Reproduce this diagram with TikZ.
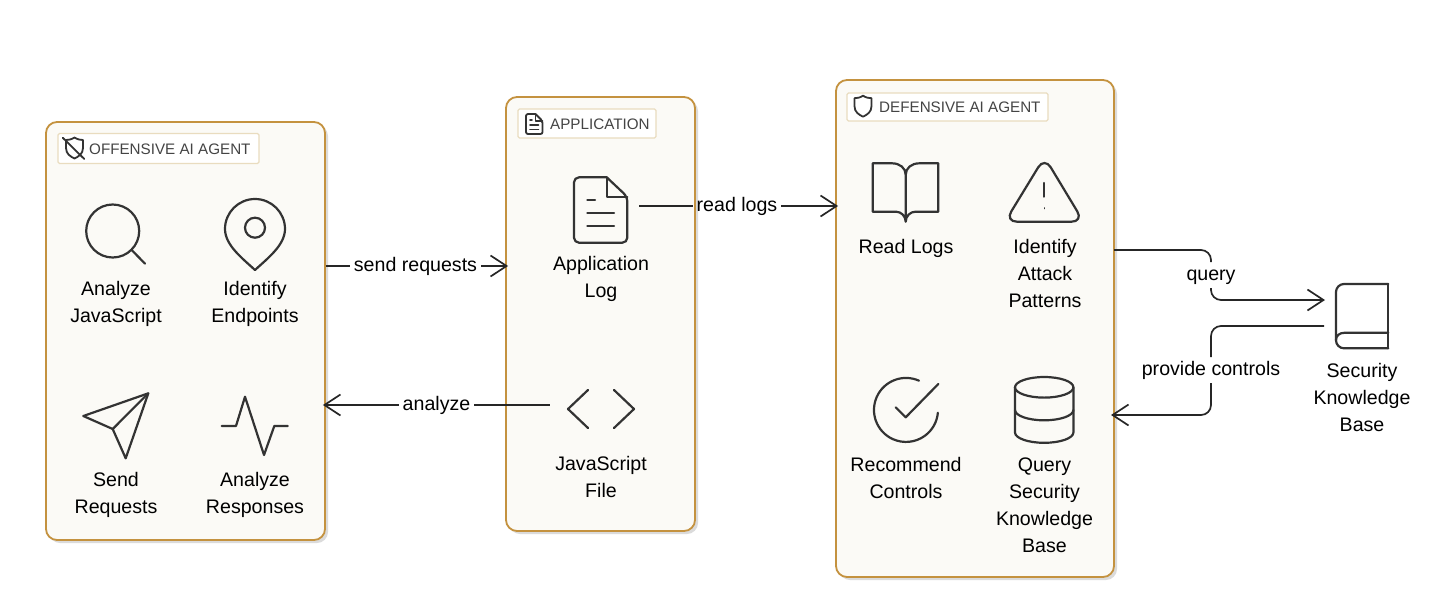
\documentclass[tikz,border=0pt]{standalone}
\usepackage{fontspec}
\setmainfont{Liberation Sans}
\usetikzlibrary{arrows.meta, shadows}
\definecolor{boxedge}{HTML}{C4923F}
\definecolor{boxfill}{HTML}{FBFAF6}
\definecolor{tagedge}{HTML}{E9DCBF}
\definecolor{inkgray}{HTML}{333333}
\definecolor{titlegray}{HTML}{444444}
\tikzset{
    groupbox/.style={draw=boxedge, fill=boxfill, line width=1.8pt, rounded corners=11pt,
        drop shadow={shadow xshift=3pt, shadow yshift=-3pt, opacity=.14, fill=black}},
    tagbox/.style={draw=tagedge, fill=white, line width=1.2pt, rounded corners=1.5pt},
    tagtext/.style={anchor=west, inner sep=0pt, text=titlegray, font=\fontsize{15.2}{18}\selectfont},
    icon/.style={draw=inkgray, line width=2.2pt, line join=round, line cap=round},
    tagicon/.style={draw=inkgray, line width=1.8pt, line join=round, line cap=round},
    iconspot/.style={inner sep=0pt},
    caption/.style={align=center, inner sep=0pt, font=\fontsize{19.6}{27}\selectfont},
    flowlabel/.style={inner sep=0pt, outer sep=4pt, text height=14pt, text depth=4pt, font=\fontsize{19.6}{27}\selectfont},
    flow/.style={draw=black!85, line width=1.7pt, rounded corners=10pt},
    flowtip/.style={flow, shorten >=-3pt, -{Straight Barb[length=16pt, width=21pt, line width=1.7pt]}},
    shieldicon/.pic={
        \draw[tagicon] (0,-10.5) .. controls (3,-8.5) and (6,-8) .. (8.5,-8) -- (8.5,0)
            .. controls (8.5,6) and (4,8.5) .. (0,10.5) .. controls (-4,8.5) and (-8.5,6) .. (-8.5,0)
            -- (-8.5,-8) .. controls (-6,-8) and (-3,-8.5) .. (0,-10.5) -- cycle;
    }
}
\begin{document}
\begin{tikzpicture}[x=1pt, y=-1pt]
    \useasboundingbox (0,0) rectangle (1432,606);

    % group boxes
    \node[groupbox, minimum width=279pt, minimum height=418pt] (offensive) at (185.5,331) {};
    \node[groupbox, minimum width=189pt, minimum height=434pt] (application) at (600.5,314) {};
    \node[groupbox, minimum width=278pt, minimum height=497pt] (defensive) at (975,328.5) {};

    % group titles
    \node[tagbox, minimum width=201pt, minimum height=30pt] (offensivetag) at (158.5,148.5) {};
    \node[tagtext] (offensivetitle) at (89,149) {OFFENSIVE AI AGENT};
    \pic at (74.5,148) {shieldicon};
    \draw[tagicon] (62.7,137.7) -- (84.3,159);
    \node[tagbox, minimum width=138pt, minimum height=29pt] (applicationtag) at (587,123.5) {};
    \node[tagtext] (applicationtitle) at (550,124) {APPLICATION};
    \draw[tagicon, rounded corners=2pt] (535.5,114) -- (526,114) -- (526,134) -- (542.5,134) -- (542.5,121) -- (535.5,114);
    \draw[tagicon] (535.5,114) -- (535.5,121) -- (542.5,121);
    \draw[tagicon] (530,120) -- (532,120) (530,125) -- (538.5,125) (530,129.5) -- (538.5,129.5);
    \node[tagbox, minimum width=201pt, minimum height=28pt] (defensivetag) at (947.5,107) {};
    \node[tagtext] (defensivetitle) at (879,107) {DEFENSIVE AI AGENT};
    \pic at (863,106.2) {shieldicon};

    % offensive icons
    \draw[icon] (112.7,231) circle (26.5);
    \draw[icon] (131.7,250) -- (145,263.7);
    \draw[icon] (255,270) .. controls (242,258) and (225,245) .. (225,229)
        arc[start angle=180, end angle=360, x radius=30, y radius=30]
        .. controls (285,245) and (268,258) .. (255,270) -- cycle;
    \draw[icon] (255,227.7) circle (10);
    \draw[icon] (148.3,393.3) -- (83.3,416) -- (112.7,429) -- (125.7,458.3) -- cycle;
    \draw[icon] (112.7,429) -- (148.3,393.3);
    \draw[icon] (221.7,426) -- (236,426) -- (245,396.7) -- (264,455) -- (274.3,426) -- (287.7,426);

    % application icons
    \node[iconspot, minimum width=77pt, minimum height=66pt] (logicon) at (600.5,210) {};
    \draw[icon, rounded corners=5pt] (606.7,177.3) -- (574,177.3) -- (574,242.7) -- (627.3,242.7) -- (627.3,196.7) -- (606.7,177.3);
    \draw[icon] (606.7,177.3) -- (606.7,196.7) -- (627.3,196.7);
    \draw[icon] (587.3,200) -- (595,200) (587.3,212.7) -- (614,212.7) (587.3,226) -- (614,226);
    \node[iconspot, minimum width=102pt, minimum height=40pt] (codeicon) at (601,409) {};
    \draw[icon] (588,390) -- (568,409) -- (588,428);
    \draw[icon] (614,390) -- (634,409) -- (614,428);

    % defensive icons
    \draw[icon] (905.7,175) .. controls (905.7,168) and (900,163.3) .. (892,163.3) -- (872.7,163.3) -- (872.7,211.7)
        -- (896,211.7) .. controls (901,211.7) and (905.7,216) .. (905.7,221.7)
        .. controls (905.7,216) and (910.4,211.7) .. (915.4,211.7) -- (938.3,211.7) -- (938.3,163.3) -- (919.4,163.3)
        .. controls (911.4,163.3) and (905.7,168) .. (905.7,175) -- (905.7,221.7);
    \draw[icon, rounded corners=12pt] (1044.5,157) -- (1083.5,221.7) -- (1005,221.7) -- cycle;
    \draw[icon] (1044.3,183) -- (1044.3,196.7);
    \draw[icon, line width=1.6pt] (1044.3,208) -- (1044.3,208.5);
    \draw[icon] (919,380.7) arc[start angle=-66, end angle=-355, radius=32];
    \draw[icon] (895.7,407.3) -- (905.7,417.3) -- (938.3,384);
    \draw[icon] (1044.2,387.3) ellipse[x radius=29.2, y radius=10.3];
    \draw[icon] (1015,387.3) -- (1015,432.5) arc[start angle=180, end angle=0, x radius=29.2, y radius=10.3] -- (1073.4,387.3);
    \draw[icon] (1015,410) arc[start angle=180, end angle=0, x radius=29.2, y radius=10.3];

    % knowledge base icon
    \node[iconspot, minimum width=76pt, minimum height=64pt] (bookicon) at (1362,316) {};
    \draw[icon, rounded corners=8pt] (1388.3,284) -- (1336,284) -- (1336,348.3) -- (1388.3,348.3);
    \draw[icon] (1388.3,284) -- (1388.3,348.3);
    \draw[icon] (1388.3,332.7) -- (1345,332.7) .. controls (1339,332.7) and (1336,336) .. (1336,340);

    % icon captions
    \node[caption] (analyzejs) at (116,303.5) {Analyze\\JavaScript};
    \node[caption] (identifyendpoints) at (255,304) {Identify\\Endpoints};
    \node[caption] (sendrequests) at (116,495) {Send\\Requests};
    \node[caption] (analyzeresponses) at (255,495) {Analyze\\Responses};
    \node[caption] (applicationlog) at (601,279) {Application\\Log};
    \node[caption] (javascriptfile) at (601,476.5) {JavaScript\\File};
    \node[caption] (readlogs) at (906,248) {Read Logs};
    \node[caption] (identifypatterns) at (1045,273.5) {Identify\\Attack\\Patterns};
    \node[caption] (recommendcontrols) at (906,477.5) {Recommend\\Controls};
    \node[caption] (querybase) at (1044.5,505) {Query\\Security\\Knowledge\\Base};
    \node[caption] (securitybase) at (1362,397) {Security\\Knowledge\\Base};

    % flow labels
    \node[flowlabel] (sendlabel) at (415.5,266) {send requests};
    \node[flowlabel] (readlabel) at (737,206) {read logs};
    \node[flowlabel] (analyzelabel) at (436.5,405) {analyze};
    \node[flowlabel] (querylabel) at (1211,275) {query};
    \node[flowlabel] (controlslabel) at (1211,370) {provide controls};
    \coordinate (querystart) at (1114,250);
    \coordinate (queryend) at (1322,300);
    \coordinate (controlsstart) at (1324,326);
    \coordinate (controlsend) at (1114,415);

    % flows
    \draw[flow] (offensive.east |- sendlabel) -- (sendlabel.west);
    \draw[flowtip] (sendlabel.east) -- (application.west |- sendlabel);
    \draw[flow] (logicon.east |- readlabel) -- (readlabel.west);
    \draw[flowtip] (readlabel.east) -- (defensive.west |- readlabel);
    \draw[flow] (codeicon.west |- analyzelabel) -- (analyzelabel.east);
    \draw[flowtip] (analyzelabel.west) -- (offensive.east |- analyzelabel);
    \draw[flow] (querystart) -| (querylabel.north);
    \draw[flowtip] (querylabel.south) |- (queryend);
    \draw[flow] (controlsstart) -| (controlslabel.north);
    \draw[flowtip] (controlslabel.south) |- (controlsend);
\end{tikzpicture}
\end{document}
